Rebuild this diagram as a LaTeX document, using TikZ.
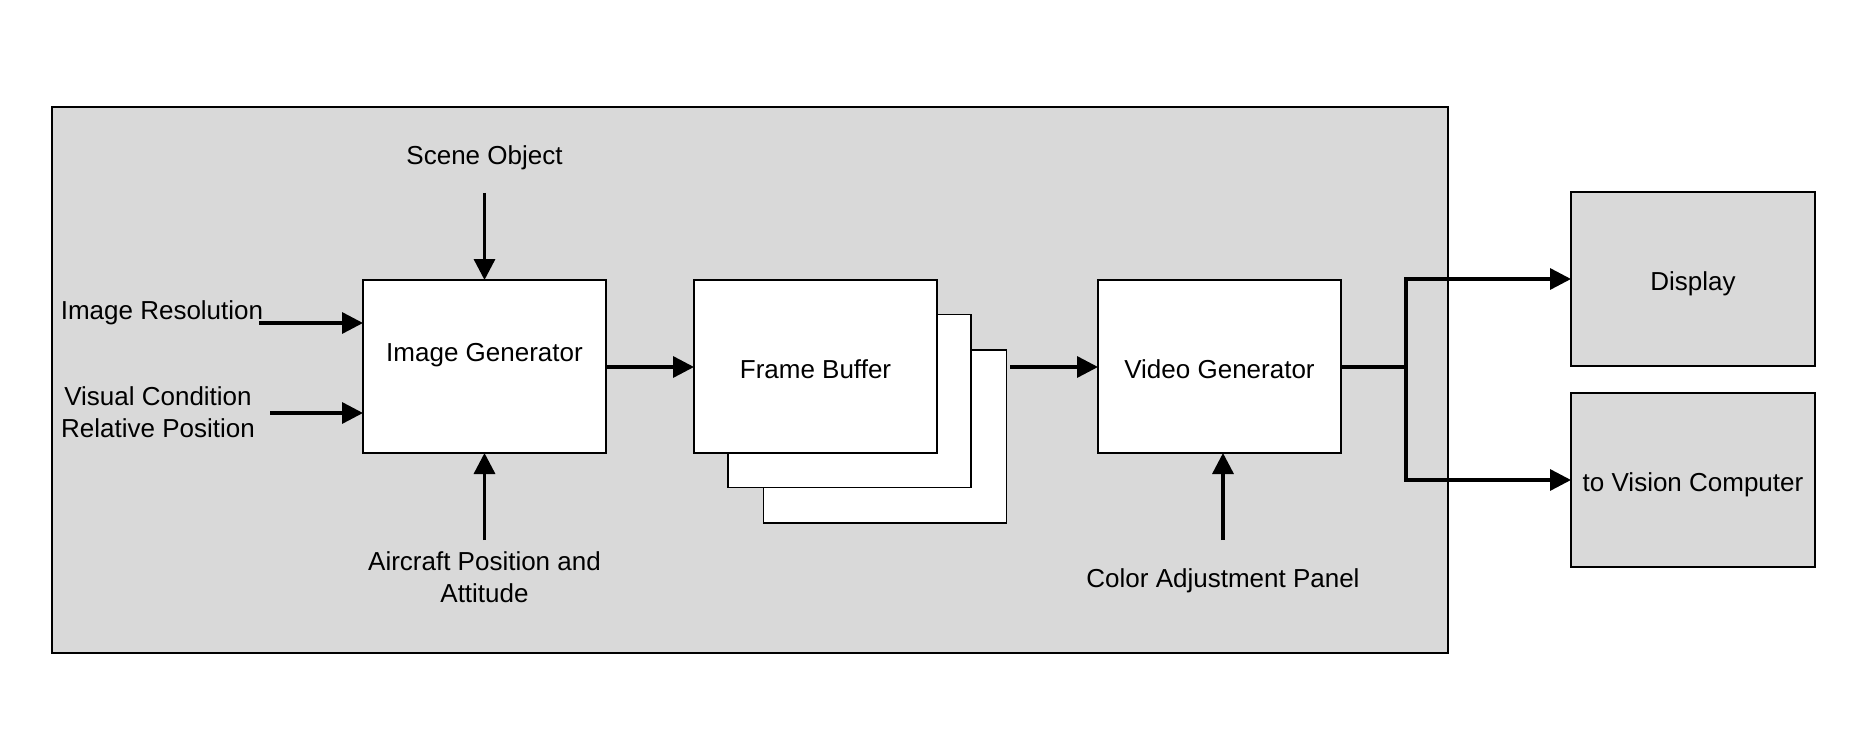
\documentclass[tikz,border=0pt]{standalone}
\usepackage{fontspec}
\setmainfont{Liberation Sans}
\usepackage{tikz}
\usetikzlibrary{arrows.meta,positioning,calc}
\usepackage{xcolor}
\definecolor{panelgray}{RGB}{217, 217, 217}

\begin{document}
\begin{tikzpicture}[
    x=0.5pt, y=-0.5pt,
    block/.style={rectangle, draw, line width=0.8pt, fill=white, minimum width=121.5pt, minimum height=86.5pt, inner sep=0pt, outer sep=0pt, text height=11.9pt, text depth=0pt, font=\fontsize{13}{15.6}\selectfont},
    outbox/.style={block, fill=panelgray, minimum width=122pt, minimum height=87pt},
    lbl/.style={inner sep=0pt, align=center, text depth=0pt, font=\fontsize{13}{15.6}\selectfont},
    arr/.style={-{Triangle[length=10.5pt,width=10.5pt]}, line width=1.7pt},
]
    \useasboundingbox (0,0) rectangle (1860,733);

    % Panel
    \node[rectangle, draw, line width=0.8pt, fill=panelgray, minimum width=698pt, minimum height=273pt, inner sep=0pt] (panel) at (750,380) {};

    % Blocks
    \node[block] (ig) at (484.5,366.5) {};
    \node[lbl] (igtext) at (484.5,352) {Image Generator};
    \node[block] (fb3) at (885,436.5) {};
    \node[block] (fb2) at (849.5,401) {};
    \node[block] (fb1) at (815.5,366.5) {Frame Buffer};
    \node[block] (vg) at (1219.5,366.5) {Video Generator};
    \node[outbox] (disp) at (1693,279) {Display};
    \node[outbox] (vis) at (1693,480) {to Vision Computer};

    % Labels
    \node[lbl] (scene) at (484.5,155) {Scene Object};
    \node[lbl] (res) at (162,310) {Image Resolution};
    \node[lbl] (cond) at (158,412) {Visual Condition\\Relative Position};
    \node[lbl] (air) at (484.5,577) {Aircraft Position and\\Attitude};
    \node[lbl] (color) at (1223,578) {Color Adjustment Panel};

    % Arrows
    \coordinate (scenein) at (484.5,193);
    \coordinate (resin) at (259,323);
    \coordinate (condin) at (270,413);
    \coordinate (airin) at (484.5,540);
    \coordinate (fbout) at (1010,367);
    \coordinate (colorin) at (1223,540);
    \coordinate (split) at (1406,367);

    \draw[arr] (scenein) -- (ig.north);
    \draw[arr] (resin) -- (ig.west |- resin);
    \draw[arr] (condin) -- (ig.west |- condin);
    \draw[arr] (airin) -- (ig.south);
    \draw[arr] (ig.east |- fbout) -- (fb1.west |- fbout);
    \draw[arr] (fbout) -- (vg.west |- fbout);
    \draw[arr] (colorin) -- (colorin |- vg.south);
    \draw[line width=1.7pt] (vg.east |- split) -- (split);
    \draw[arr] (split) |- (disp.west);
    \draw[arr] (split) |- (vis.west);
\end{tikzpicture}
\end{document}
